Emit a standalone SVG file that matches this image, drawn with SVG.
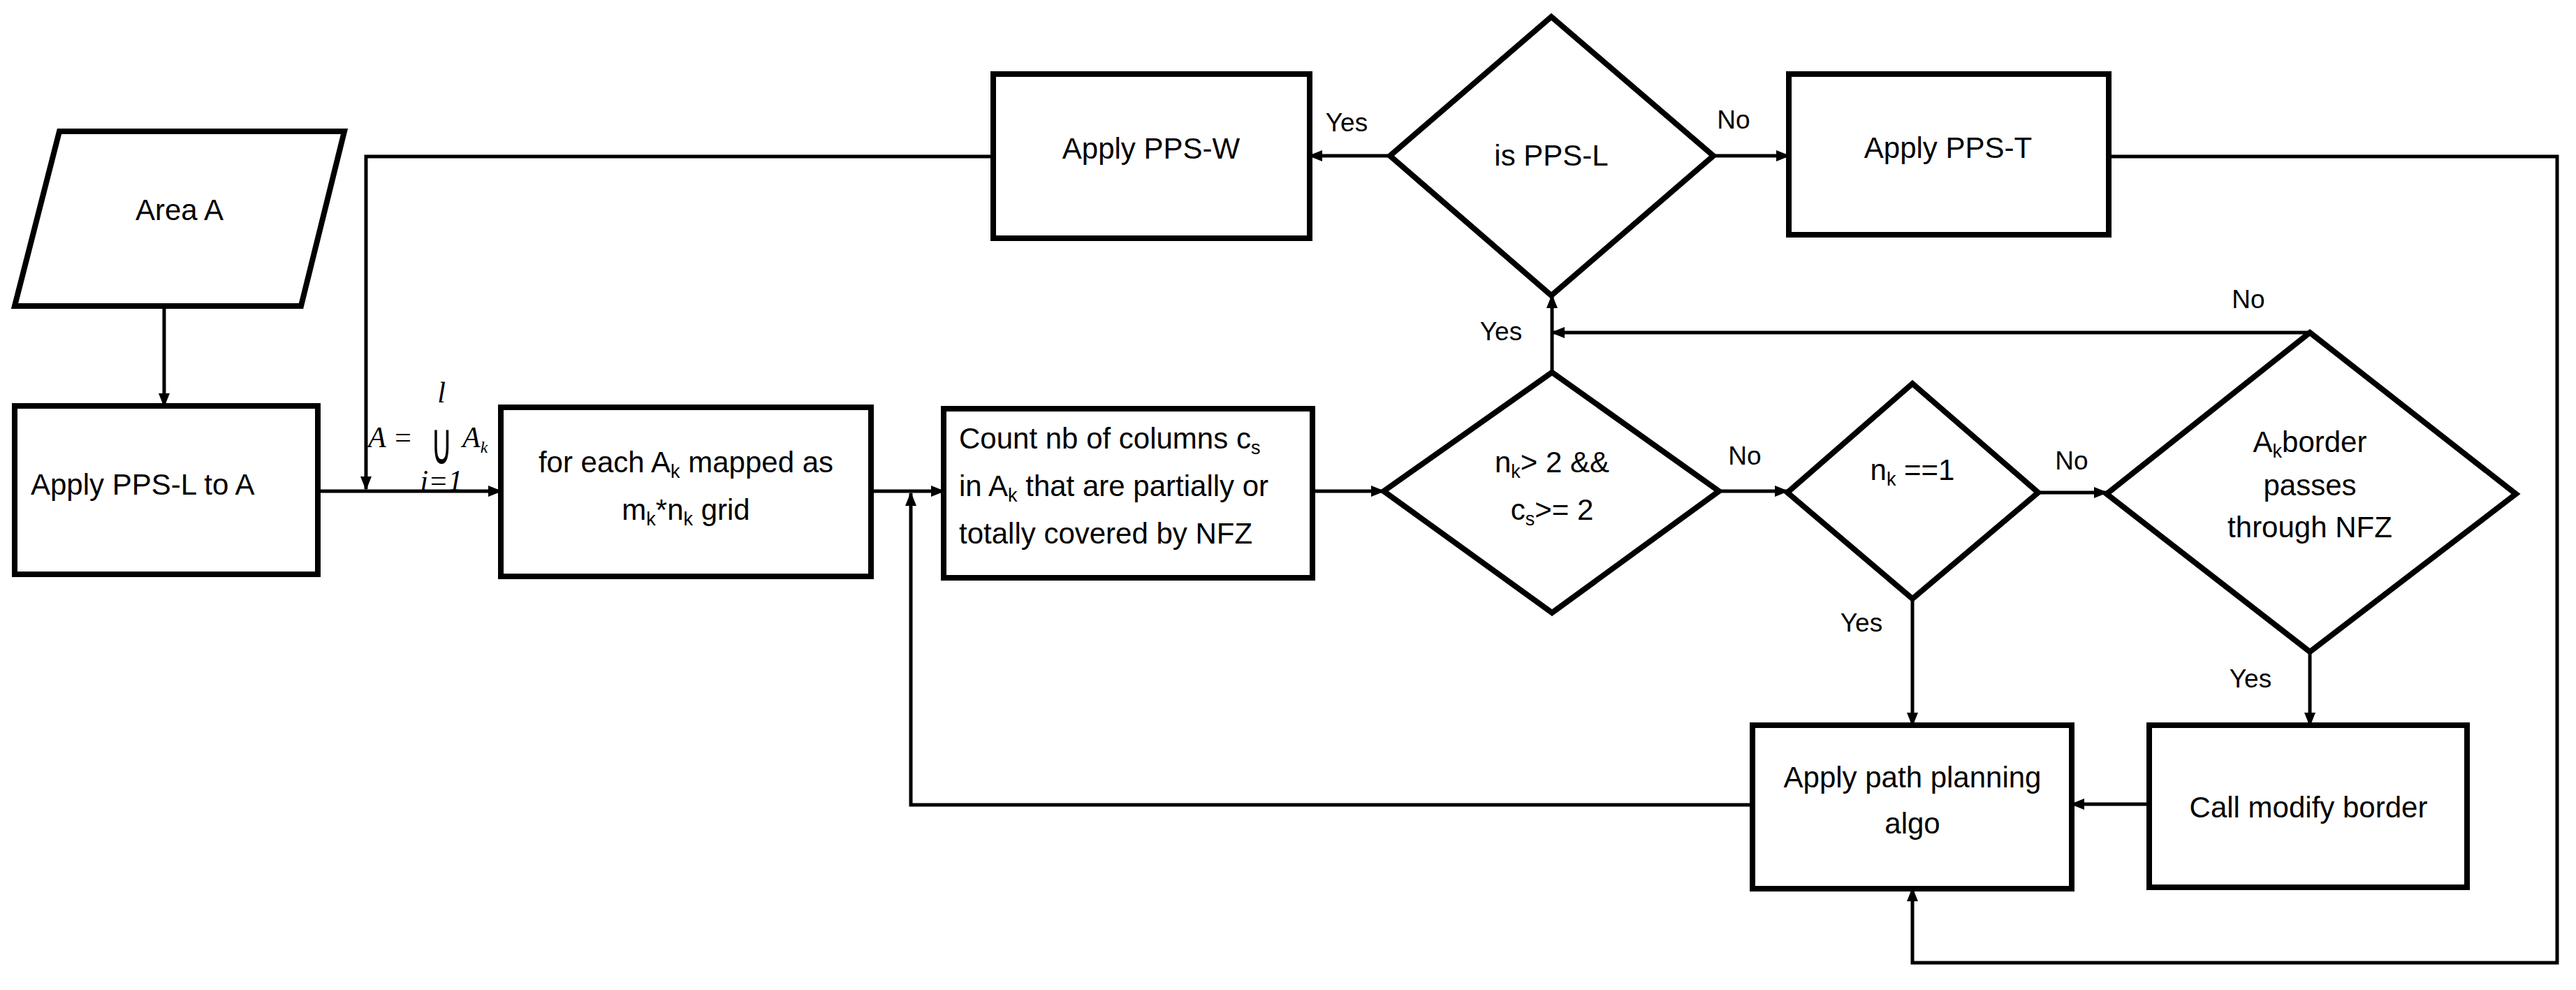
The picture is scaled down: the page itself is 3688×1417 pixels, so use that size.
<svg xmlns="http://www.w3.org/2000/svg" width="3688" height="1417" viewBox="0 0 3688 1417">
<style>
.n{fill:#fff;stroke:#000;stroke-width:8}
.c{fill:none;stroke:#000;stroke-width:5}
text{font-family:"Liberation Sans",Arial,sans-serif;font-size:42px;fill:#000}
.m{text-anchor:middle}
.l{font-size:37px}
.s{font-size:27px}
.f{font-family:"Liberation Serif",serif;font-style:italic}
</style>
<defs><marker id="a" viewBox="0 0 10 10" refX="9" refY="5" markerWidth="4" markerHeight="4" orient="auto" markerUnits="strokeWidth"><path d="M0,1 L10,5 L0,9 z" fill="#000"/></marker></defs>
<rect width="3688" height="1417" fill="#fff"/>
<g id="connectors" class="c">
<path d="M235,441 V581" marker-end="url(#a)"/>
<path d="M455,703 H717" marker-end="url(#a)"/>
<path d="M1422,224 H524 V700" marker-end="url(#a)"/>
<path d="M1247,703 H1351" marker-end="url(#a)"/>
<path d="M2509,1152 H1304 V706" marker-end="url(#a)"/>
<path d="M1879,703 H1981" marker-end="url(#a)"/>
<path d="M2222,533 V423" marker-end="url(#a)"/>
<path d="M1990,223 H1875" marker-end="url(#a)"/>
<path d="M2453,223 H2561" marker-end="url(#a)"/>
<path d="M3019,224 H3661 V1378 H2738 V1272" marker-end="url(#a)"/>
<path d="M2461,703 H2559" marker-end="url(#a)"/>
<path d="M2918,705 H3016" marker-end="url(#a)"/>
<path d="M2738,857 V1038" marker-end="url(#a)"/>
<path d="M3307,476 H2222" marker-end="url(#a)"/>
<path d="M3307,933 V1038" marker-end="url(#a)"/>
<path d="M3077,1151 H2966" marker-end="url(#a)"/>
</g>
<g id="labels">
<text class="l" x="1928" y="188" text-anchor="middle">Yes</text>
<text class="l" x="2482" y="184" text-anchor="middle">No</text>
<text class="l" x="2149" y="487" text-anchor="middle">Yes</text>
<text class="l" x="2498" y="665" text-anchor="middle">No</text>
<text class="l" x="2665" y="904" text-anchor="middle">Yes</text>
<text class="l" x="2966" y="672" text-anchor="middle">No</text>
<text class="l" x="3219" y="441" text-anchor="middle">No</text>
<text class="l" x="3222" y="984" text-anchor="middle">Yes</text>
<g id="formula">
<text class="f" x="527" y="640" font-size="36">A =</text>
<text x="0" y="0" font-size="56" text-anchor="middle" transform="translate(632,664) scale(1,2)" style="font-family:'DejaVu Sans',sans-serif">∪</text>
<text class="f" x="662" y="640" font-size="36">A<tspan font-size="24" dy="8">k</tspan></text>
<text class="f" x="632" y="576" font-size="26" text-anchor="middle">l</text>
<text class="f" x="632" y="702" font-size="24" text-anchor="middle">i=1</text>
</g>
</g>
<g id="areaA"><path class="n" d="M85,188 H493 L431,438 H21 Z"/><text class="m" x="257" y="315">Area A</text></g>
<g id="ppsL"><rect class="n" x="21" y="581" width="434" height="241"/><text x="44" y="708">Apply PPS-L to A</text></g>
<g id="foreach"><rect class="n" x="717" y="583" width="530" height="242"/><text class="m" x="982" y="676">for each A<tspan class="s" dy="8">k</tspan><tspan dy="-8"> mapped as</tspan></text><text class="m" x="982" y="744">m<tspan class="s" dy="8">k</tspan><tspan dy="-8">*n</tspan><tspan class="s" dy="8">k</tspan><tspan dy="-8"> grid</tspan></text></g>
<g id="count"><rect class="n" x="1351" y="585" width="528" height="242"/><text x="1373" y="642">Count nb of columns c<tspan class="s" dy="8">s</tspan></text><text x="1373" y="710">in A<tspan class="s" dy="8">k</tspan><tspan dy="-8"> that are partially or</tspan></text><text x="1373" y="778">totally covered by NFZ</text></g>
<g id="ppsW"><rect class="n" x="1422" y="106" width="453" height="235"/><text class="m" x="1648" y="227">Apply PPS-W</text></g>
<g id="isPPSL"><path class="n" d="M2221,24 L2453,223 L2221,423 L1990,223 Z"/><text class="m" x="2221" y="237">is PPS-L</text></g>
<g id="ppsT"><rect class="n" x="2561" y="106" width="458" height="230"/><text class="m" x="2789" y="226">Apply PPS-T</text></g>
<g id="d1"><path class="n" d="M2222,533 L2461,703 L2222,877 L1981,703 Z"/><text class="m" x="2222" y="676">n<tspan class="s" dy="8">k</tspan><tspan dy="-8">&gt; 2 &amp;&amp;</tspan></text><text class="m" x="2222" y="744">c<tspan class="s" dy="8">s</tspan><tspan dy="-8">&gt;= 2</tspan></text></g>
<g id="d2"><path class="n" d="M2738,549 L2918,705 L2738,857 L2559,705 Z"/><text class="m" x="2738" y="687">n<tspan class="s" dy="8">k</tspan><tspan dy="-8"> ==1</tspan></text></g>
<g id="d3"><path class="n" d="M3307,476 L3602,707 L3307,933 L3016,707 Z"/><text class="m" x="3307" y="647">A<tspan class="s" dy="8">k</tspan><tspan dy="-8">border</tspan></text><text class="m" x="3307" y="709">passes</text><text class="m" x="3307" y="769">through NFZ</text></g>
<g id="pathplan"><rect class="n" x="2509" y="1038" width="457" height="234"/><text class="m" x="2738" y="1127">Apply path planning</text><text class="m" x="2738" y="1193">algo</text></g>
<g id="modify"><rect class="n" x="3077" y="1038" width="455" height="232"/><text class="m" x="3305" y="1170">Call modify border</text></g>
</svg>
